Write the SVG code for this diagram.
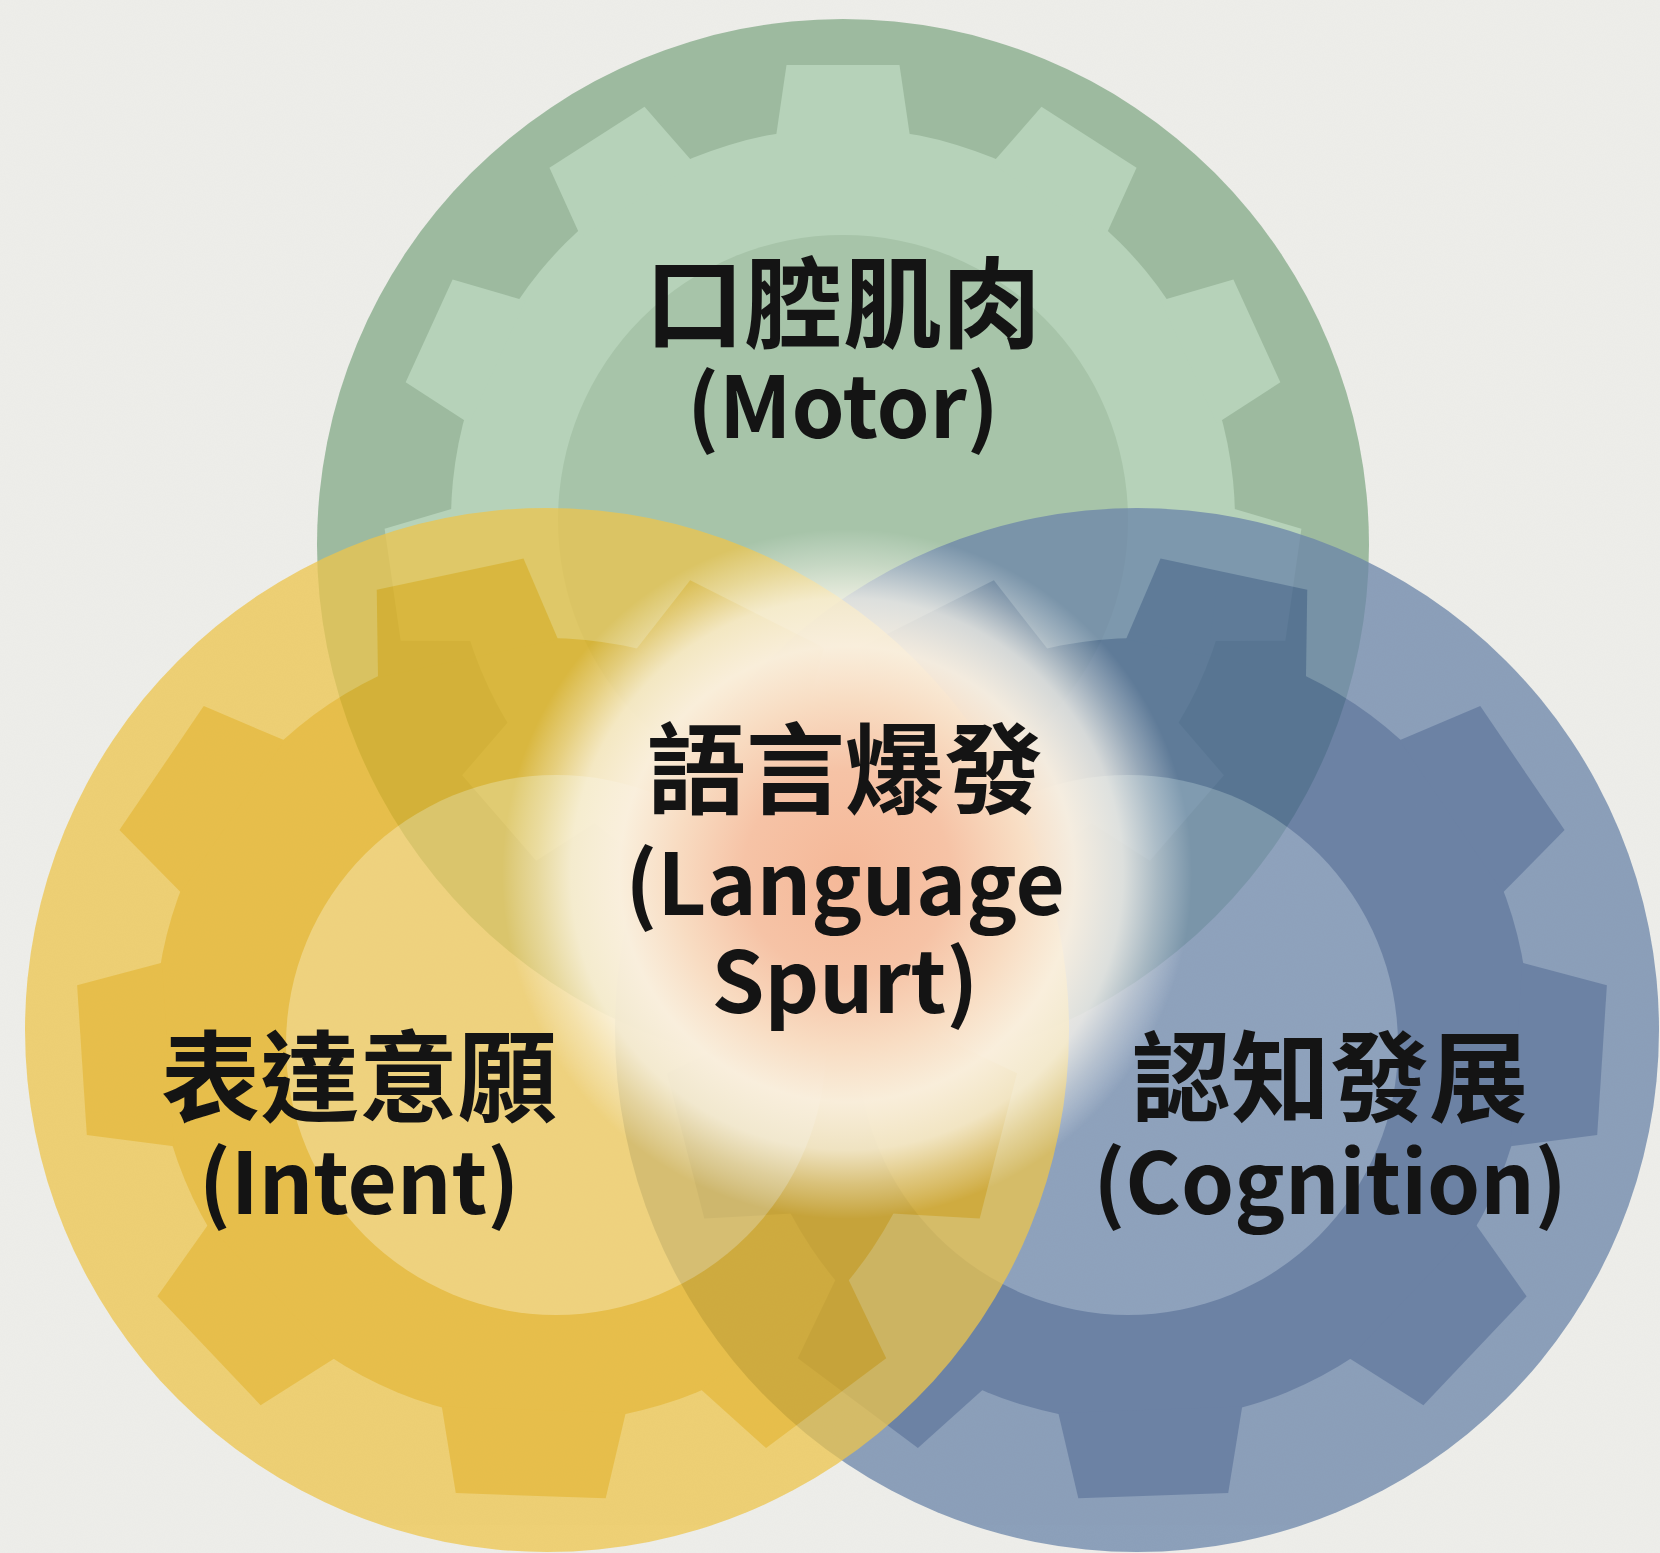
<svg xmlns="http://www.w3.org/2000/svg" xmlns:xlink="http://www.w3.org/1999/xlink" width="1660" height="1553" viewBox="0 0 1660 1553">
<defs>
<style>
.zh{font-family:"Noto Sans CJK TC","Noto Sans CJK SC",sans-serif;font-weight:700;font-size:99px;fill:#141414;text-anchor:middle}
.en{font-family:"Noto Sans CJK TC","Noto Sans",sans-serif;font-weight:700;font-size:85px;fill:#141414;text-anchor:middle}
</style>
<polygon id="toothG" points="380,-67.5 455,-56.5 455,56.5 380,67.5"/>
<polygon id="toothB" points="380,-92 466,-75 466,75 380,92"/>
<radialGradient id="glow" gradientUnits="userSpaceOnUse" cx="847" cy="874" r="345">
<stop offset="0" stop-color="#f5b898"/>
<stop offset="0.3" stop-color="#f6c3a6"/>
<stop offset="0.5" stop-color="#f8dcc2"/>
<stop offset="0.66" stop-color="#fbf1e2" stop-opacity="0.95"/>
<stop offset="0.8" stop-color="#fdf8ee" stop-opacity="0.75"/>
<stop offset="0.9" stop-color="#fefbf3" stop-opacity="0.35"/>
<stop offset="1" stop-color="#ffffff" stop-opacity="0"/>
</radialGradient>
<filter id="grain" x="0" y="0" width="100%" height="100%">
<feTurbulence type="fractalNoise" baseFrequency="0.9" numOctaves="2" seed="3"/>
<feColorMatrix type="matrix" values="0 0 0 0 0.5  0 0 0 0 0.5  0 0 0 0 0.5  0 0 0 0.06 0"/>
</filter>
</defs>

<rect id="background" x="0" y="0" width="1660" height="1553" fill="#eeeeea"/>
<rect x="0" y="0" width="1660" height="1553" filter="url(#grain)"/>

<g id="motor">
<circle cx="843" cy="545" r="526" fill="#9dba9f"/>
<g transform="translate(843,520)" fill="#b6d2b9">
<circle r="392"/>
<use href="#toothG" transform="rotate(-90)"/>
<use href="#toothG" transform="rotate(-122.73)"/>
<use href="#toothG" transform="rotate(-155.45)"/>
<use href="#toothG" transform="rotate(-188.18)"/>
<use href="#toothG" transform="rotate(-220.91)"/>
<use href="#toothG" transform="rotate(-253.64)"/>
<use href="#toothG" transform="rotate(-286.36)"/>
<use href="#toothG" transform="rotate(-319.09)"/>
<use href="#toothG" transform="rotate(-351.82)"/>
<use href="#toothG" transform="rotate(-384.55)"/>
<use href="#toothG" transform="rotate(-417.27)"/>
</g>
<circle cx="843" cy="520" r="285" fill="#a7c4a9"/>
<text class="zh" x="843" y="340">口腔肌肉</text>
<text class="en" x="843" y="438">(Motor)</text>
</g>

<g id="cognition">
<g opacity="0.75">
<circle cx="1137" cy="1030" r="522" fill="#6b85a9"/>
<g transform="translate(1137,1030)" fill="#425f8e">
<circle r="392"/>
<use href="#toothB" transform="rotate(-78)"/>
<use href="#toothB" transform="rotate(-34.2)"/>
<use href="#toothB" transform="rotate(3.7)"/>
<use href="#toothB" transform="rotate(43.5)"/>
<use href="#toothB" transform="rotate(88)"/>
<use href="#toothB" transform="rotate(126.8)"/>
<use href="#toothB" transform="rotate(165.6)"/>
<use href="#toothB" transform="rotate(204.4)"/>
<use href="#toothB" transform="rotate(243.2)"/>
</g>
<circle cx="1128" cy="1045" r="270" fill="#6f89ad"/>
</g>
</g>

<g id="intent">
<g opacity="0.75">
<circle cx="547" cy="1030" r="522" fill="#edc54d"/>
<g transform="translate(547,1030)" fill="#e5af17">
<circle r="392"/>
<use href="#toothB" transform="rotate(-102)"/>
<use href="#toothB" transform="rotate(-145.8)"/>
<use href="#toothB" transform="rotate(-183.7)"/>
<use href="#toothB" transform="rotate(-223.5)"/>
<use href="#toothB" transform="rotate(-268)"/>
<use href="#toothB" transform="rotate(-306.8)"/>
<use href="#toothB" transform="rotate(-345.6)"/>
<use href="#toothB" transform="rotate(-24.4)"/>
<use href="#toothB" transform="rotate(-63.2)"/>
</g>
<circle cx="556" cy="1045" r="270" fill="#efc95b"/>
</g>
</g>

<g id="spurt">
<circle cx="847" cy="874" r="345" fill="url(#glow)"/>
<text class="zh" x="845" y="806">語言爆發</text>
<text class="en" x="845" y="915">(Language</text>
<text class="en" x="845" y="1013">Spurt)</text>
</g>

<g id="labels">
<text class="zh" x="359" y="1114">表達意願</text>
<text class="en" x="359" y="1214">(Intent)</text>
<text class="zh" x="1330" y="1114">認知發展</text>
<text class="en" x="1330" y="1214">(Cognition)</text>
</g>

<g id="connectors"/>
</svg>
